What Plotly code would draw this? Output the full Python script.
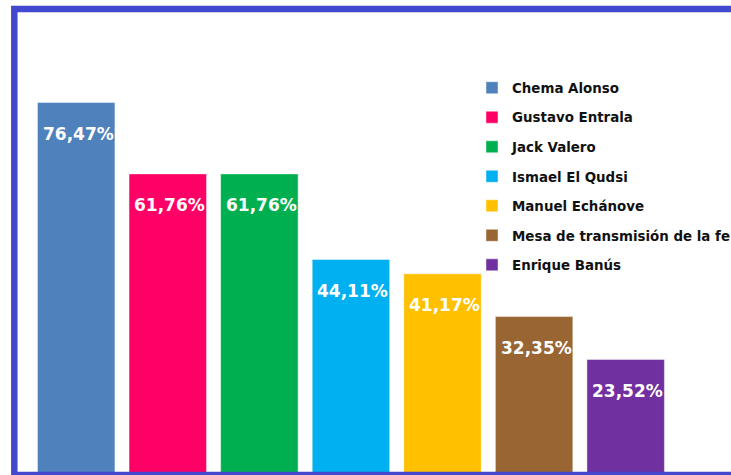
import plotly.graph_objects as go

names = ["Chema Alonso", "Gustavo Entrala", "Jack Valero", "Ismael El Qudsi",
         "Manuel Echánove", "Mesa de transmisión de la fe", "Enrique Banús"]
values = [76.47, 61.76, 61.76, 44.11, 41.17, 32.35, 23.52]
labels = ["76,47%", "61,76%", "61,76%", "44,11%", "41,17%", "32,35%", "23,52%"]
colors = ["#4F81BD", "#FF0066", "#00B050", "#00B0F0", "#FFC000", "#996633", "#7030A0"]

FONT = "Century Gothic, DejaVu Sans, sans-serif"

fig = go.Figure()
for i, (n, v, c) in enumerate(zip(names, values, colors)):
    fig.add_trace(go.Bar(
        x=[i], y=[v], name=n, width=0.846,
        marker=dict(color=c, line=dict(color="rgba(255,255,255,0.45)", width=1)),
        legendgroup=f"g{i}", hoverinfo="skip",
    ))
    fig.add_annotation(
        x=i, y=v, text=labels[i], showarrow=False,
        xanchor="center", yanchor="middle", xshift=2, yshift=-31.5,
        font=dict(family=FONT, size=17, color="white", weight="bold"),
    )

fig.add_shape(
    type="rect", xref="paper", yref="paper",
    x0=14.3 / 731, x1=1.05, y0=0.0, y1=1 - 9 / 475,
    line=dict(color="#4249CE", width=6.5), fillcolor="rgba(0,0,0,0)", layer="above",
)

fig.update_layout(
    width=731, height=475,
    margin=dict(l=0, r=0, t=0, b=0, autoexpand=False),
    paper_bgcolor="white", plot_bgcolor="white",
    barmode="overlay",
    showlegend=True,
    legend=dict(
        x=472 / 731, y=1 - 72.5 / 475, xanchor="left", yanchor="top",
        font=dict(family=FONT, size=13.4, color="#111111", weight="bold"),
        bgcolor="rgba(0,0,0,0)", tracegroupgap=9.1, traceorder="grouped",
    ),
    xaxis=dict(range=[-0.832, 7.15], visible=False, fixedrange=True),
    yaxis=dict(range=[-0.3, 97.6], visible=False, fixedrange=True),
)

fig.write_html("out.html")
